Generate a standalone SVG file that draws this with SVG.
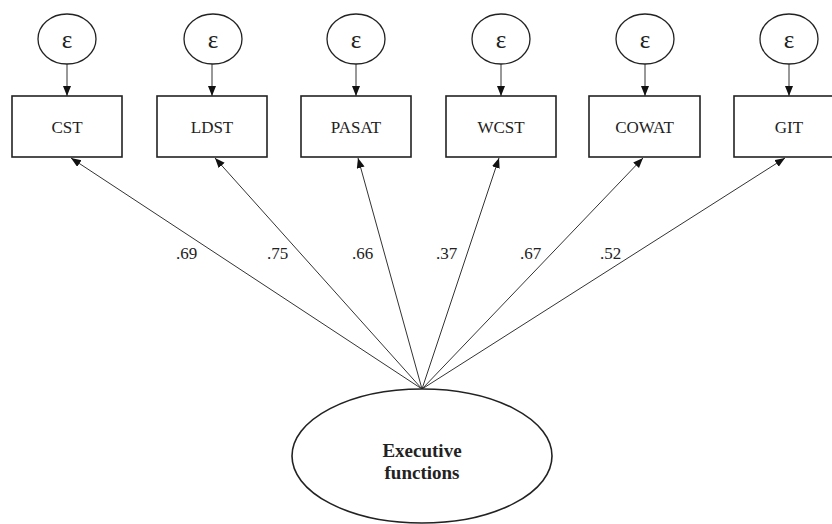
<svg xmlns="http://www.w3.org/2000/svg" width="832" height="524" viewBox="0 0 832 524">
<defs>
<marker id="ah" markerUnits="userSpaceOnUse" markerWidth="11" markerHeight="9" refX="10" refY="4" orient="auto">
<path d="M0,0 L10,4 L0,8 z" fill="#111"/>
</marker>
<style>
.err{fill:#fff;stroke:#222;stroke-width:1.3}
.box{fill:#fff;stroke:#222;stroke-width:1.6}
.lat{fill:#fff;stroke:#222;stroke-width:1.6}
.t{font-family:"Liberation Serif","Times New Roman",serif;font-size:17px;fill:#222;text-anchor:middle}
.eps{font-family:"Liberation Serif","Times New Roman",serif;font-size:25px;fill:#222;text-anchor:middle}
.lb{font-family:"Liberation Serif","Times New Roman",serif;font-size:17px;fill:#222}
.bt{font-family:"Liberation Serif","Times New Roman",serif;font-size:19px;font-weight:bold;fill:#222;text-anchor:middle}
.ln{stroke:#333;stroke-width:1;fill:none;marker-end:url(#ah)}
</style>
</defs>
<rect width="832" height="524" fill="#fff"/>
<g id="connectors">
<line class="ln" x1="67" y1="64" x2="67" y2="96"/>
<line class="ln" x1="212" y1="64" x2="212" y2="96"/>
<line class="ln" x1="356" y1="64" x2="356" y2="96"/>
<line class="ln" x1="501" y1="64" x2="501" y2="96"/>
<line class="ln" x1="645" y1="64" x2="645" y2="96"/>
<line class="ln" x1="789" y1="64" x2="789" y2="96"/>
<line class="ln" x1="422" y1="389" x2="71" y2="158"/>
<line class="ln" x1="422" y1="389" x2="215" y2="158"/>
<line class="ln" x1="422" y1="389" x2="358" y2="158"/>
<line class="ln" x1="422" y1="389" x2="499" y2="158"/>
<line class="ln" x1="422" y1="389" x2="643" y2="158"/>
<line class="ln" x1="422" y1="389" x2="785" y2="158"/>
<text class="lb" x="176" y="259">.69</text>
<text class="lb" x="267" y="259">.75</text>
<text class="lb" x="352" y="259">.66</text>
<text class="lb" x="436" y="259">.37</text>
<text class="lb" x="520" y="259">.67</text>
<text class="lb" x="600" y="259">.52</text>
</g>
<g id="e1"><ellipse class="err" cx="67" cy="39" rx="29" ry="25"/><text class="eps" x="67" y="48">ε</text></g>
<g id="e2"><ellipse class="err" cx="213" cy="39" rx="29" ry="25"/><text class="eps" x="213" y="48">ε</text></g>
<g id="e3"><ellipse class="err" cx="356" cy="39" rx="29" ry="25"/><text class="eps" x="356" y="48">ε</text></g>
<g id="e4"><ellipse class="err" cx="501" cy="39" rx="29" ry="25"/><text class="eps" x="501" y="48">ε</text></g>
<g id="e5"><ellipse class="err" cx="645" cy="39" rx="29" ry="25"/><text class="eps" x="645" y="48">ε</text></g>
<g id="e6"><ellipse class="err" cx="789" cy="39" rx="29" ry="25"/><text class="eps" x="789" y="48">ε</text></g>
<g id="CST"><rect class="box" x="12" y="96" width="110" height="61"/><text class="t" x="67" y="133">CST</text></g>
<g id="LDST"><rect class="box" x="157" y="96" width="110" height="61"/><text class="t" x="212" y="133">LDST</text></g>
<g id="PASAT"><rect class="box" x="301" y="96" width="110" height="61"/><text class="t" x="356" y="133">PASAT</text></g>
<g id="WCST"><rect class="box" x="446" y="96" width="110" height="61"/><text class="t" x="501" y="133">WCST</text></g>
<g id="COWAT"><rect class="box" x="589" y="96" width="111" height="61"/><text class="t" x="644.5" y="133">COWAT</text></g>
<g id="GIT"><rect class="box" x="734" y="96" width="110" height="61"/><text class="t" x="789" y="133">GIT</text></g>
<g id="EF"><ellipse class="lat" cx="422" cy="456" rx="130" ry="67"/><text class="bt" x="422" y="457">Executive</text><text class="bt" x="422" y="479">functions</text></g>
</svg>
